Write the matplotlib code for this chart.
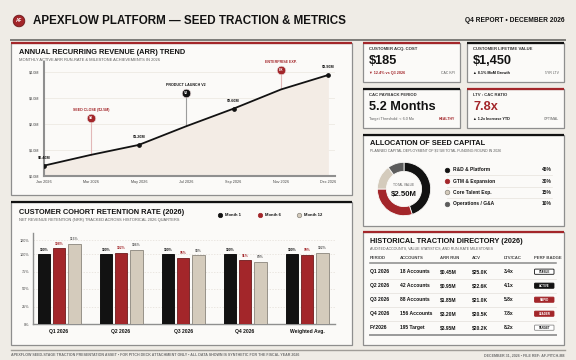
import numpy as np
import matplotlib.pyplot as plt
import matplotlib.patches as mpatches

plt.rcParams['font.family'] = ['Liberation Sans', 'DejaVu Sans']

# ---------------------------------------------------------------
# palette
# ---------------------------------------------------------------
W, H = 576, 360
BG = '#efece6'
PANEL = '#fbfaf8'
EDGE = '#8e8e8e'
RED = '#a3262a'
INK = '#121212'
BEIGE = '#d4cbbc'
GRAY = '#5c5c5c'
MUTED = '#6f6f6f'

# ---------------------------------------------------------------
# data
# ---------------------------------------------------------------
# ARR trend
arr_months = ['Jan 2026', 'Mar 2026', 'May 2026', 'Jul 2026', 'Sep 2026', 'Nov 2026', 'Dec 2026']
arr_values = [0.40, 0.82, 1.20, 1.92, 2.60, 3.34, 3.90]
arr_marked = [0, 2, 4, 6]
arr_yticks = [0, 1, 2, 3, 4]

milestone_idx = [1, 3, 5]
milestone_level = [2.22, 3.19, 4.09]
milestone_code = ['S0', 'V2', 'EX']
milestone_text = ['SEED CLOSE ($2.5M)', 'PRODUCT LAUNCH V2', 'ENTERPRISE EXP.']

# cohort retention
cohorts = ['Q1 2026', 'Q2 2026', 'Q3 2026', 'Q4 2026', 'Weighted Avg.']
month1 = [100, 100, 100, 100, 100]
month6 = [108, 102, 95, 91, 99]
month12 = [115, 106, 98, 89, 102]
ret_yticks = [0, 25, 50, 75, 100, 120]

# seed capital allocation
alloc_labels = ['R&D & Platform', 'GTM & Expansion', 'Core Talent Exp.', 'Operations / G&A']
alloc_pct = [45, 30, 15, 10]

# KPI cards
kpi_titles = ['CUSTOMER ACQ. COST', 'CUSTOMER LIFETIME VALUE', 'CAC PAYBACK PERIOD', 'LTV : CAC RATIO']
kpi_values = ['$185', '$1,450', '5.2 Months', '7.8x']
kpi_notes = ['▼ 12.4% vs Q3 2026', '▲ 8.1% MoM Growth', 'Target Threshold: < 6.0 Mo', '▲ 1.2x Increase YTD']
kpi_tags = ['CAC KPI', '5YR LTV', 'HEALTHY', 'OPTIMAL']

# traction directory
tbl_header = ['PERIOD', 'ACCOUNTS', 'ARR RUN', 'ACV', 'LTV/CAC', 'PERF BADGE']
tbl_period = ['Q1 2026', 'Q2 2026', 'Q3 2026', 'Q4 2026', 'FY2026']
tbl_accounts = ['18 Accounts', '42 Accounts', '88 Accounts', '156 Accounts', '195 Target']
tbl_arr = ['$0.45M', '$0.95M', '$1.85M', '$3.20M', '$3.95M']
tbl_acv = ['$25.0K', '$22.6K', '$21.0K', '$20.5K', '$20.2K']
tbl_ratio = ['3.4x', '4.1x', '5.8x', '7.8x', '8.2x']
tbl_badge = ['STABLE', 'ACTIVE', 'RAPID', 'LEADER', 'TARGET']

# ---------------------------------------------------------------
# canvas helpers (pixel coordinates, y down)
# ---------------------------------------------------------------
fig = plt.figure(figsize=(W / 100, H / 100), dpi=100, facecolor=BG)
bg = fig.add_axes([0, 0, 1, 1])
bg.set_xlim(0, W)
bg.set_ylim(H, 0)
bg.axis('off')


def box(x0, y0, x1, y1):
    return [x0 / W, 1 - y1 / H, (x1 - x0) / W, (y1 - y0) / H]


def panel(x0, y0, x1, y1, accent):
    bg.add_patch(mpatches.Rectangle((x0 + 1.2, y0 + 1.2), x1 - x0, y1 - y0,
                                    facecolor='#c9c6c0', lw=0, zorder=1))
    bg.add_patch(mpatches.Rectangle((x0, y0), x1 - x0, y1 - y0, facecolor=PANEL,
                                    edgecolor=EDGE, lw=0.9, zorder=2))
    bg.plot([x0, x1], [y0, y0], color=accent, lw=1.6, solid_capstyle='butt', zorder=3)


def txt(x, y, s, size, color=INK, bold=True, ha='left', **kw):
    bg.text(x, y, s, fontsize=size, color=color, ha=ha, va='center',
            fontweight='bold' if bold else 'normal', zorder=6, **kw)


# ---------------------------------------------------------------
# header / footer
# ---------------------------------------------------------------
bg.add_patch(mpatches.Circle((19, 21), 5.8, facecolor=RED, edgecolor='#6d1a1c', lw=0.6, zorder=4))
txt(19, 21, 'AF', 3.4, color='white', ha='center')
txt(33, 21, 'APEXFLOW PLATFORM — SEED TRACTION & METRICS', 8.4)
txt(565, 21, 'Q4 REPORT • DECEMBER 2026', 4.8, ha='right')
bg.plot([11, 565], [40, 40], color='#7c7b78', lw=1.4)

bg.plot([11, 565], [349.5, 349.5], color='#a09d98', lw=1.0)
txt(11, 355, 'APEXFLOW SEED-STAGE TRACTION PRESENTATION ASSET • FOR PITCH DECK ATTACHMENT ONLY • '
    'ALL DATA SHOWN IS SYNTHETIC FOR THE FISCAL YEAR 2026', 2.65, color=MUTED)
txt(565, 355, 'DECEMBER 31, 2026 • FILE REF: AF-PITCH-M8', 2.65, color=MUTED, ha='right')

# ---------------------------------------------------------------
# ARR panel
# ---------------------------------------------------------------
panel(11, 43, 352, 195, RED)
txt(19, 52.7, 'ANNUAL RECURRING REVENUE (ARR) TREND', 5.3)
txt(19, 60, 'MONTHLY ACTIVE ARR RUN-RATE & MILESTONE ACHIEVEMENTS IN 2026', 2.9, color=GRAY, bold=False)

ax = fig.add_axes(box(44, 62, 335, 176))
ax.set_facecolor('none')
x = np.arange(len(arr_months))
vals = np.array(arr_values)
ax.fill_between(x, vals, 0, color='#f3ece5', lw=0, zorder=1)
ax.plot(x, vals, color=INK, lw=1.3, zorder=4)
ax.plot(x[arr_marked], vals[arr_marked], 'o', color=INK, ms=2.4, zorder=5)
for i in arr_marked:
    ax.annotate(f'${vals[i]:.2f}M', (x[i], vals[i]), xytext=(0, 5.8), textcoords='offset points',
                ha='center', va='center', fontsize=2.7, fontweight='bold', color=INK)

ms_colors = [RED, INK, RED]
stem_colors = ['#e2b8b8', '#9c9c9c', '#e2b8b8']
for i, lvl, code, label, c, sc in zip(milestone_idx, milestone_level, milestone_code,
                                      milestone_text, ms_colors, stem_colors):
    ax.plot([x[i], x[i]], [vals[i], lvl], color=sc, lw=0.8, zorder=2)
    ax.plot(x[i], lvl, 'o', ms=6.2, color=c, mec='#eadcdc', mew=0.5, zorder=6)
    ax.text(x[i], lvl, code, ha='center', va='center', color='white', fontsize=2.4,
            fontweight='bold', zorder=7)
    ax.annotate(label, (x[i], lvl), xytext=(0, 5.8), textcoords='offset points',
                ha='center', va='center', fontsize=2.6, fontweight='bold', color=c,
                annotation_clip=False)

ax.set_xlim(0, 6.14)
ax.set_ylim(0, 4.4)
ax.set_xticks(x, arr_months)
ax.set_yticks(arr_yticks, [f'${v:.1f}M' for v in arr_yticks])
ax.grid(axis='y', color='#ebe6df', lw=0.5)
ax.set_axisbelow(True)
for s in ['top', 'right']:
    ax.spines[s].set_visible(False)
for s in ['left', 'bottom']:
    ax.spines[s].set_color('#8f8f8f')
    ax.spines[s].set_linewidth(1.5)
ax.tick_params(length=0, labelsize=2.7, labelcolor='#444444')
ax.tick_params(axis='y', pad=3.6)
ax.tick_params(axis='x', pad=3.0)

# ---------------------------------------------------------------
# cohort retention panel
# ---------------------------------------------------------------
panel(11, 202, 352, 345, INK)
txt(19, 212.3, 'CUSTOMER COHORT RETENTION RATE (2026)', 5.3)
txt(19, 220, 'NET REVENUE RETENTION (NRR) TRACKED ACROSS HISTORICAL 2026 QUARTERS', 2.9,
    color=GRAY, bold=False)

leg_items = [('Month 1', INK, INK), ('Month 6', RED, RED), ('Month 12', BEIGE, '#8a857c')]
for (lab, fc, ec), lx in zip(leg_items, [220, 260, 299]):
    bg.plot(lx, 215, 'o', ms=3.2, color=fc, mec=ec, mew=0.5, zorder=6)
    txt(lx + 5, 215, lab, 3.0)

ax2 = fig.add_axes(box(33, 233, 335, 324))
ax2.set_facecolor('none')
xc = np.arange(len(cohorts))
bw, off = 0.2, 0.247
series = [(month1, INK, '#000000', INK), (month6, RED, '#6e1a1d', RED), (month12, BEIGE, '#8a857c', GRAY)]
for k, (vals_k, fc, ec, lc) in enumerate(series):
    pos = xc + (k - 1) * off
    bars = ax2.bar(pos, vals_k, width=bw, color=fc, edgecolor=ec, lw=0.6, zorder=3)
    for b, v in zip(bars, vals_k):
        ax2.annotate(f'{v}%', (b.get_x() + b.get_width() / 2, v), xytext=(0, 3.2),
                     textcoords='offset points', ha='center', va='center', fontsize=2.4,
                     fontweight='bold', color=lc)
ax2.set_xlim(-0.42, 4.45)
ax2.set_ylim(0, 130)
ax2.set_xticks(xc, cohorts)
ax2.set_yticks(ret_yticks, [f'{v}%' for v in ret_yticks])
ax2.grid(axis='y', color='#e3ded7', lw=0.5, ls=(0, (2, 2)))
ax2.set_axisbelow(True)
for s in ['top', 'right']:
    ax2.spines[s].set_visible(False)
for s in ['left', 'bottom']:
    ax2.spines[s].set_color('#8f8f8f')
    ax2.spines[s].set_linewidth(1.0)
ax2.tick_params(length=0, labelsize=2.7, labelcolor='#444444')
ax2.tick_params(axis='y', pad=2.6)
ax2.tick_params(axis='x', pad=3.5, labelsize=3.6, labelcolor=INK)
for t in ax2.get_xticklabels():
    t.set_fontweight('bold')

# ---------------------------------------------------------------
# KPI cards
# ---------------------------------------------------------------
cards = [(363, 43, 460, 82, RED), (467, 43, 564, 82, INK),
         (363, 89, 460, 128, INK), (467, 89, 564, 128, RED)]
value_colors = [INK, INK, INK, RED]
note_colors = [RED, INK, GRAY, INK]
tag_colors = [GRAY, GRAY, RED, GRAY]
for (x0, y0, x1, y1, acc), t, v, n, g, vc, nc, tc in zip(cards, kpi_titles, kpi_values, kpi_notes,
                                                        kpi_tags, value_colors, note_colors, tag_colors):
    panel(x0, y0, x1, y1, acc)
    txt(x0 + 6, y0 + 6.3, t, 3.1, color='#333333')
    txt(x0 + 6, y0 + 18, v, 9.2, color=vc)
    txt(x0 + 6, y0 + 30.3, n, 2.7, color=nc, bold=(nc != GRAY))
    txt(x1 - 5, y0 + 30.3, g, 2.5, color=tc, ha='right', bold=(tc == RED))

# ---------------------------------------------------------------
# allocation panel
# ---------------------------------------------------------------
panel(363, 135, 564, 226, INK)
txt(370, 143.3, 'ALLOCATION OF SEED CAPITAL', 5.3)
txt(370, 150.7, 'PLANNED CAPITAL DEPLOYMENT OF $2.5M TOTAL FUNDING ROUND IN 2026', 2.6,
    color=GRAY, bold=False)

alloc_colors = [INK, RED, BEIGE, GRAY]
ax3 = fig.add_axes(box(376, 161, 432, 217))
ax3.pie(alloc_pct, colors=alloc_colors, startangle=90, counterclock=False, radius=1,
        wedgeprops=dict(width=0.34, edgecolor=PANEL, lw=0.6))
ax3.set_xlim(-1.05, 1.05)
ax3.set_ylim(-1.05, 1.05)
ax3.set_aspect('equal')
ax3.text(0, 0.15, 'TOTAL VALUE', ha='center', va='center', fontsize=2.3, color=GRAY)
ax3.text(0, -0.2, '$2.50M', ha='center', va='center', fontsize=5.6, fontweight='bold', color=INK)

edge_cols = [INK, RED, '#8a857c', GRAY]
for k, (lab, p, c, ec) in enumerate(zip(alloc_labels, alloc_pct, alloc_colors, edge_cols)):
    yy = 169.7 + k * 11.33
    bg.plot(447, yy, 'o', ms=3.3, color=c, mec=ec, mew=0.5, zorder=6)
    txt(453, yy, lab, 3.5)
    txt(552, yy, f'{p}%', 3.5, ha='right')
    if k < len(alloc_labels) - 1:
        bg.plot([447, 552], [yy + 5.6, yy + 5.6], color='#e6e2dc', lw=0.5, zorder=5)

# ---------------------------------------------------------------
# traction directory
# ---------------------------------------------------------------
panel(363, 232, 564, 345, RED)
txt(370, 241.7, 'HISTORICAL TRACTION DIRECTORY (2026)', 5.3)
txt(370, 249, 'AUDITED ACCOUNTS, VALUE STATISTICS, AND RUN-RATE MILESTONES', 2.6, color=GRAY, bold=False)

cols_x = [370, 400, 440, 472, 504, 534]
for cx, h in zip(cols_x, tbl_header):
    txt(cx, 258.3, h, 3.1, color='#444444')
bg.plot([370, 556], [262.5, 262.5], color='#8a8a8a', lw=1.1, zorder=5)

badge_style = {'STABLE': ('white', INK, INK), 'ACTIVE': (INK, INK, 'white'),
               'RAPID': (RED, RED, 'white'), 'LEADER': (RED, RED, 'white'),
               'TARGET': ('white', '#8a8a8a', INK)}
rows = list(zip(tbl_period, tbl_accounts, tbl_arr, tbl_acv, tbl_ratio))
for r, (cells, badge) in enumerate(zip(rows, tbl_badge)):
    yy = 271.7 + r * 14
    for cx, cell in zip(cols_x, cells):
        txt(cx, yy, cell, 3.6)
    fc, ec, tc = badge_style[badge]
    bg.add_patch(mpatches.FancyBboxPatch((534.5, yy - 2.6), 19.5, 5.2,
                                         boxstyle='round,pad=0,rounding_size=0.8',
                                         facecolor=fc, edgecolor=ec, lw=0.6, zorder=5))
    txt(544.2, yy, badge, 2.1, color=tc, ha='center')
    if r < len(rows) - 1:
        bg.plot([370, 556], [yy + 7, yy + 7], color='#e4e0da', lw=0.5, zorder=5)
bg.plot([370, 556], [334.5, 334.5], color='#9a9a9a', lw=1.4, zorder=5)

fig.savefig('out.png', dpi=100, facecolor=BG)
